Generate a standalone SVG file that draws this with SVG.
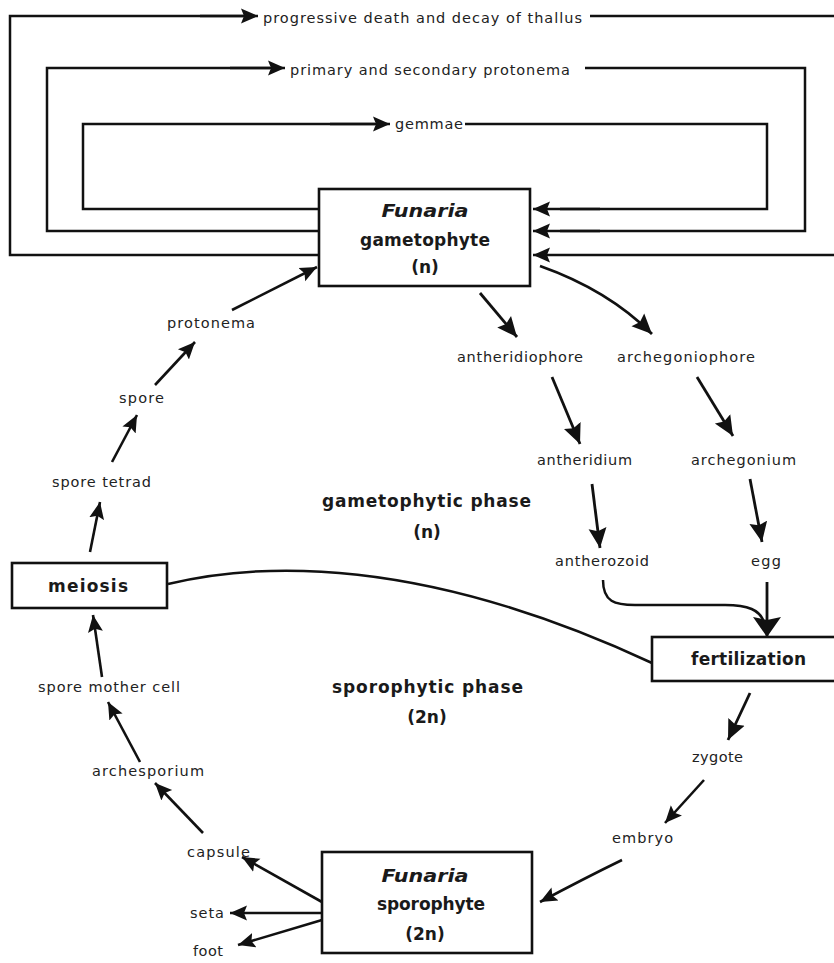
<svg xmlns="http://www.w3.org/2000/svg" width="834" height="963" viewBox="0 0 834 963">
<defs>
<style>
.bg{fill:#fff}
.box{fill:#fff;stroke:#111;stroke-width:2.6}
.ln{fill:none;stroke:#111;stroke-width:2.5;stroke-linejoin:miter}
.ar{fill:none;stroke:#111;stroke-width:2.6;marker-end:url(#ah)}
.arM{fill:none;stroke:#111;stroke-width:2.8;marker-end:url(#ahM)}
.arL{fill:none;stroke:#111;stroke-width:2.8;marker-end:url(#ahL)}
.t{font-family:"DejaVu Sans","Liberation Sans",sans-serif;font-size:14.5px;fill:#222}
.b{font-family:"DejaVu Sans","Liberation Sans",sans-serif;font-size:17px;font-weight:bold;fill:#1a1a1a}
.i{font-style:italic}
.c{text-anchor:middle}
</style>
<marker id="ah" markerUnits="userSpaceOnUse" markerWidth="20" markerHeight="18" refX="17" refY="8.5" orient="auto"><path d="M0,1 L17,8.5 L0,16 L3,8.5 z" fill="#111"/></marker>
<marker id="ahM" markerUnits="userSpaceOnUse" markerWidth="22" markerHeight="20" refX="20" refY="10" orient="auto"><path d="M0,1 L20,10 L0,19 L3,10 z" fill="#111"/></marker>
<marker id="ahL" markerUnits="userSpaceOnUse" markerWidth="22" markerHeight="30" refX="20" refY="15" orient="auto"><path d="M0,1 L20,15 L0,29 L3,15 z" fill="#111"/></marker>
</defs>
<rect class="bg" x="0" y="0" width="834" height="963"/>

<g id="connectors">
<path class="ln" d="M320,255 L10,255 L10,16 L244,16"/>
<path class="ar" d="M200,16 L258,16"/>
<path class="ln" d="M590,16 L834,16"/>
<path class="ar" d="M834,255 L533,255"/>
<path class="ln" d="M320,231 L47,231 L47,68 L270,68"/>
<path class="ar" d="M230,68 L285,68"/>
<path class="ln" d="M585,68 L805,68 L805,231 L560,231"/>
<path class="ar" d="M600,231 L533,231"/>
<path class="ln" d="M320,209 L83,209 L83,124 L375,124"/>
<path class="ar" d="M330,124 L390,124"/>
<path class="ln" d="M465,124 L767,124 L767,209 L560,209"/>
<path class="ar" d="M600,209 L533,209"/>

<path class="ar" d="M232,310 L317,267"/>
<path class="arM" d="M480,293 L517,337"/>
<path class="arM" d="M540,266 Q608,290 652,334"/>
<path class="arM" d="M552,377 L580,444"/>
<path class="arM" d="M697,377 L733,436"/>
<path class="arM" d="M592,484 L600,548"/>
<path class="arM" d="M750,479 L762,542"/>
<path class="ln" d="M603,580 C603,602 615,605 635,605 L725,605 C748,605 760,610 764,622"/>
<path class="arL" d="M767,582 L767,637"/>
<path class="ln" d="M168,584 C260,562 420,555 652,663"/>
<path class="arM" d="M750,693 L728,740"/>
<path class="ar" d="M704,780 L665,823"/>
<path class="ar" d="M622,860 Q585,878 540,902"/>
<path class="ar" d="M322,902 L242,857"/>
<path class="ar" d="M322,913 L230,913"/>
<path class="ar" d="M322,920 L238,945"/>
<path class="ar" d="M203,833 L155,783"/>
<path class="ar" d="M140,762 L108,702"/>
<path class="ar" d="M102,677 L93,615"/>
<path class="ar" d="M90,552 L100,502"/>
<path class="ar" d="M112,462 L137,415"/>
<path class="ar" d="M155,385 L195,342"/>
</g>

<g id="gametophyte">
<rect class="box" x="319" y="189" width="211" height="97"/>
<text class="b i c" x="425" y="217" textLength="87" lengthAdjust="spacingAndGlyphs">Funaria</text>
<text class="b c" x="425" y="246" textLength="130">gametophyte</text>
<text class="b c" x="425" y="273">(n)</text>
</g>
<g id="meiosis">
<rect class="box" x="12" y="563" width="155" height="45"/>
<text class="b" x="48" y="592" textLength="80">meiosis</text>
</g>
<g id="fertilization">
<rect class="box" x="652" y="637" width="200" height="44"/>
<text class="b" x="691" y="665" textLength="115">fertilization</text>
</g>
<g id="sporophyte">
<rect class="box" x="322" y="852" width="210" height="101"/>
<text class="b i c" x="425" y="882" textLength="87" lengthAdjust="spacingAndGlyphs">Funaria</text>
<text class="b" x="377" y="910" textLength="108">sporophyte</text>
<text class="b c" x="425" y="940">(2n)</text>
</g>

<g id="lbl-progressive"><text class="t" x="263" y="23" textLength="319">progressive death and decay of thallus</text></g>
<g id="lbl-primary"><text class="t" x="290" y="75" textLength="280">primary and secondary protonema</text></g>
<g id="lbl-gemmae"><text class="t" x="395" y="129" textLength="68">gemmae</text></g>
<g id="lbl-protonema"><text class="t" x="167" y="328" textLength="88">protonema</text></g>
<g id="lbl-antheridiophore"><text class="t" x="457" y="362" textLength="126">antheridiophore</text></g>
<g id="lbl-archegoniophore"><text class="t" x="617" y="362" textLength="138">archegoniophore</text></g>
<g id="lbl-antheridium"><text class="t" x="537" y="465" textLength="95">antheridium</text></g>
<g id="lbl-archegonium"><text class="t" x="691" y="465" textLength="105">archegonium</text></g>
<g id="lbl-antherozoid"><text class="t" x="555" y="566" textLength="94">antherozoid</text></g>
<g id="lbl-egg"><text class="t" x="751" y="566" textLength="30">egg</text></g>
<g id="lbl-gphase"><text class="b" x="322" y="507" textLength="209">gametophytic phase</text><text class="b c" x="427" y="538">(n)</text></g>
<g id="lbl-sphase"><text class="b" x="332" y="693" textLength="191">sporophytic phase</text><text class="b c" x="427" y="723">(2n)</text></g>
<g id="lbl-sporetetrad"><text class="t" x="52" y="487" textLength="99">spore tetrad</text></g>
<g id="lbl-spore"><text class="t" x="119" y="403" textLength="45">spore</text></g>
<g id="lbl-smc"><text class="t" x="38" y="692" textLength="142">spore mother cell</text></g>
<g id="lbl-archesporium"><text class="t" x="92" y="776" textLength="112">archesporium</text></g>
<g id="lbl-capsule"><text class="t" x="187" y="857" textLength="63">capsule</text></g>
<g id="lbl-seta"><text class="t" x="190" y="918" textLength="34">seta</text></g>
<g id="lbl-foot"><text class="t" x="193" y="956" textLength="30">foot</text></g>
<g id="lbl-zygote"><text class="t" x="692" y="762" textLength="51">zygote</text></g>
<g id="lbl-embryo"><text class="t" x="612" y="843" textLength="61">embryo</text></g>
</svg>
